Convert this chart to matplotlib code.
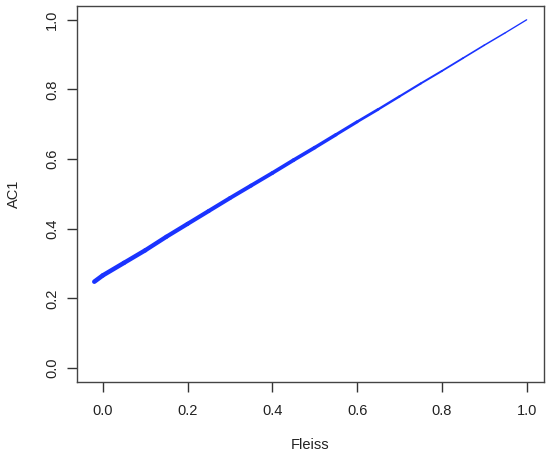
import numpy as np
import matplotlib
matplotlib.use("Agg")
import matplotlib.pyplot as plt
from matplotlib.collections import LineCollection

# Data
fleiss = [-0.02, 0.0, 0.05, 0.1, 0.15, 0.2, 0.25, 0.3, 0.35, 0.4, 0.45, 0.5,
          0.55, 0.6, 0.65, 0.7, 0.75, 0.8, 0.85, 0.9, 0.95, 1.0]
ac1 = [0.248, 0.266, 0.302, 0.338, 0.377, 0.414, 0.451, 0.488, 0.524, 0.560,
       0.597, 0.633, 0.670, 0.707, 0.743, 0.780, 0.817, 0.853, 0.890, 0.927, 0.963, 1.0]
xticks = [0.0, 0.2, 0.4, 0.6, 0.8, 1.0]
yticks = [0.0, 0.2, 0.4, 0.6, 0.8, 1.0]

plt.rcParams['font.family'] = ['Liberation Sans', 'DejaVu Sans']

fig = plt.figure(figsize=(5.5, 4.54), dpi=100)
ax = fig.add_axes([0.14, 0.1586, 0.849, 0.8285])

x = np.array(fleiss)
y = np.array(ac1)
pts = np.column_stack([x, y]).reshape(-1, 1, 2)
segs = np.concatenate([pts[:-1], pts[1:]], axis=1)
mid = (x[:-1] + x[1:]) / 2
widths = np.interp(mid, [-0.02, 0.5, 0.7, 1.0], [3.3, 2.6, 1.6, 0.9])
lc = LineCollection(segs, linewidths=widths, colors='#1a33ff', capstyle='round')
ax.add_collection(lc)

ax.set_xlim(-0.0608, 1.0408)
ax.set_ylim(-0.04, 1.04)
ax.set_xticks(xticks)
ax.set_yticks(yticks)
ax.set_xticklabels([f"{v:.1f}" for v in xticks])
ax.set_yticklabels([f"{v:.1f}" for v in yticks], rotation=90, va='center')
ax.tick_params(axis='x', pad=9)
ax.tick_params(axis='y', pad=6)
ax.tick_params(direction='out', length=7, width=1, colors='#333333',
               labelcolor='#222222', labelsize=10.5)
for s in ax.spines.values():
    s.set_color('#444444')
    s.set_linewidth(1)

ax.set_xlabel('Fleiss', fontsize=10.5, color='#222222', labelpad=14)
ax.set_ylabel('AC1', fontsize=10.5, color='#222222', labelpad=17)

fig.savefig('out.png', dpi=100)
